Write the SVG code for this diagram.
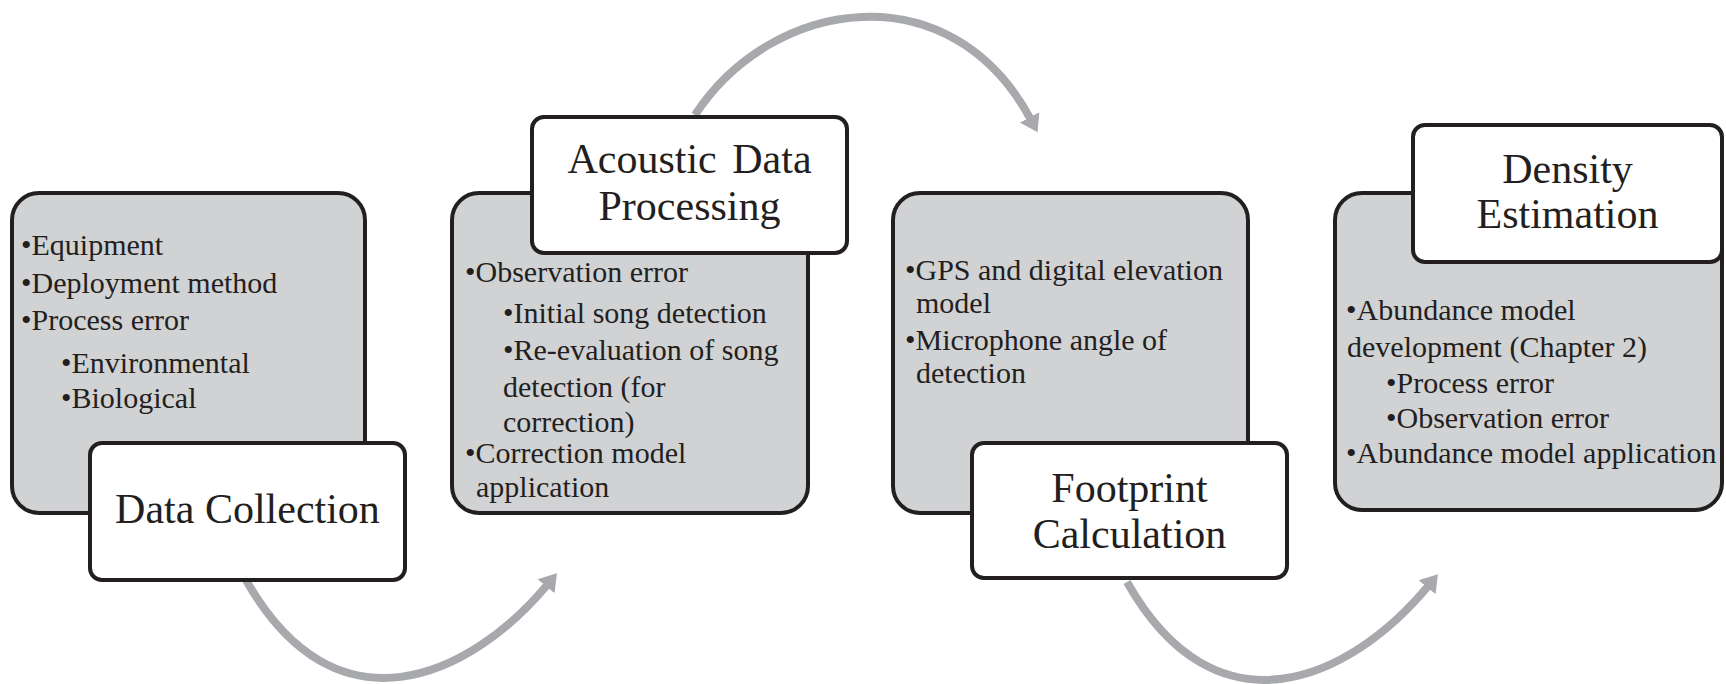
<svg xmlns="http://www.w3.org/2000/svg" width="1726" height="684" viewBox="0 0 1726 684">
<style>
.panel{fill:#d1d2d4;stroke:#231f20;stroke-width:4}
.title{fill:#ffffff;stroke:#231f20;stroke-width:4}
.t{font-family:"Liberation Serif","Times New Roman",serif;font-size:30px;fill:#231f20}
.h{font-family:"Liberation Serif","Times New Roman",serif;font-size:42px;fill:#231f20;text-anchor:middle}
.arc{fill:none;stroke:#a7a9ac;stroke-width:8;marker-end:url(#head)}
</style>
<defs>
<marker id="head" markerUnits="userSpaceOnUse" markerWidth="18" markerHeight="24" viewBox="0 0 18 24" refX="3" refY="12" orient="auto">
<path d="M0,1 L17,12 L0,23 Z" fill="#a7a9ac"/>
</marker>
</defs>
<rect width="1726" height="684" fill="#ffffff"/>
<g id="connectors">
<path class="arc" d="M246,580 C335,738 469,679 548,584"/>
<path class="arc" d="M695,115 C772,-3 951,-30 1031,120"/>
<path class="arc" d="M1127,582 C1216,740 1350,681 1429,585"/>
</g>
<g id="data-collection">
<rect class="panel" x="12" y="193" width="353" height="320" rx="27"/>
<text class="t" x="21" y="255">•Equipment</text>
<text class="t" x="21" y="293">•Deployment method</text>
<text class="t" x="21" y="330">•Process error</text>
<text class="t" x="61" y="373">•Environmental</text>
<text class="t" x="61" y="408">•Biological</text>
<rect class="title" x="90" y="443" width="315" height="137" rx="12"/>
<text class="h" x="247.5" y="523">Data Collection</text>
</g>
<g id="acoustic-data-processing">
<rect class="panel" x="452" y="193" width="356" height="320" rx="27"/>
<text class="t" x="465" y="282">•Observation error</text>
<text class="t" x="503" y="323">•Initial song detection</text>
<text class="t" x="503" y="360">•Re-evaluation of song</text>
<text class="t" x="503" y="397">detection (for</text>
<text class="t" x="503" y="432">correction)</text>
<text class="t" x="465" y="463">•Correction model</text>
<text class="t" x="476" y="497">application</text>
<rect class="title" x="532" y="117" width="315" height="136" rx="12"/>
<text class="h" x="689.5" y="173" word-spacing="5">Acoustic Data</text>
<text class="h" x="689.5" y="220">Processing</text>
</g>
<g id="footprint-calculation">
<rect class="panel" x="893" y="193" width="355" height="320" rx="27"/>
<text class="t" x="905" y="280">•GPS and digital elevation</text>
<text class="t" x="916" y="313">model</text>
<text class="t" x="905" y="350">•Microphone angle of</text>
<text class="t" x="916" y="383">detection</text>
<rect class="title" x="972" y="443" width="315" height="135" rx="12"/>
<text class="h" x="1129.5" y="502">Footprint</text>
<text class="h" x="1129.5" y="548">Calculation</text>
</g>
<g id="density-estimation">
<rect class="panel" x="1335" y="193" width="387" height="317" rx="27"/>
<text class="t" x="1346" y="320">•Abundance model</text>
<text class="t" x="1347" y="357">development (Chapter 2)</text>
<text class="t" x="1386" y="393">•Process error</text>
<text class="t" x="1386" y="428">•Observation error</text>
<text class="t" x="1346" y="463">•Abundance model application</text>
<rect class="title" x="1413" y="125" width="309" height="137" rx="12"/>
<text class="h" x="1567.5" y="183">Density</text>
<text class="h" x="1567.5" y="228">Estimation</text>
</g>
</svg>
